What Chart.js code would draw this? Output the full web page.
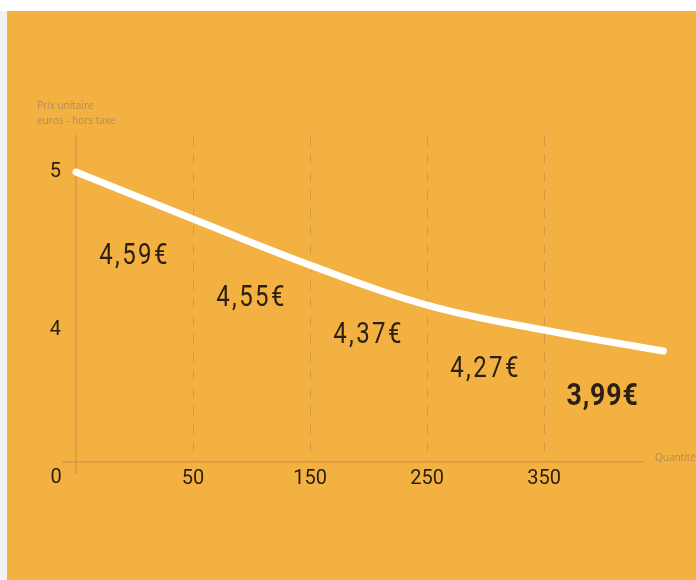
<!DOCTYPE html>
<html>
<head>
<meta charset="utf-8">
<script src="https://cdn.jsdelivr.net/npm/chart.js@4.4.1/dist/chart.umd.min.js"></script>
<style>
    html, body { margin: 0; padding: 0; background: #ffffff; }
    body { width: 696px; height: 580px; position: relative; overflow: hidden; }
    #strip { position: absolute; left: 0; top: 11px; width: 7px; height: 569px; background: #f1f1f1; }
    #panel { position: absolute; left: 7px; top: 11px; width: 689px; height: 569px; background: #f3b142; }
</style>
</head>
<body>
<div id="strip"></div>
<div id="panel"><canvas id="prixChart" width="689" height="569"></canvas></div>
<script>
// ------------------ data ------------------ //
var quantites = ['0', '50', '150', '250', '350'];          // tick labels of the x axis
var courbeX = [0, 1, 2, 3, 4, 5.02];                        // curve position (index along the quantity axis)
var courbeY = [5.0, 4.703, 4.411, 4.158, 4.0, 3.867];       // unit price curve
var prixTicks = [4, 5];                                     // y ticks shown
var prix = ['4,59€', '4,55€', '4,37€', '4,27€', '3,99€'];  // price per quantity band

var police = '"Roboto", sans-serif';
var texteFonce = '#2a1f12';
var texteGris = '#b08d55';
var axeCouleur = '#d49a45';

// draws the price labels, the origin "0" and the "Quantité" axis name
var etiquettes = {
    id: 'etiquettes',
    afterDatasetsDraw: function (chart, args, opts) {
        var ctx = chart.ctx;
        var xs = chart.scales.x, ys = chart.scales.y;
        var meta = chart.getDatasetMeta(0).data;
        ctx.save();
        // small axis overhangs past the origin
        ctx.strokeStyle = axeCouleur;
        ctx.lineWidth = 1.5;
        ctx.beginPath();
        ctx.moveTo(ys.right - 14, xs.top);
        ctx.lineTo(ys.right, xs.top);
        ctx.moveTo(ys.right, xs.top);
        ctx.lineTo(ys.right, xs.top + 12);
        ctx.stroke();

        ctx.fillStyle = texteFonce;
        ctx.textAlign = 'center';
        ctx.textBaseline = 'middle';
        for (var i = 0; i < prix.length; i++) {
            var last = i === prix.length - 1;
            var px = xs.getPixelForValue(i + 0.5);
            var py = (meta[i].y + meta[i + 1].y) / 2 + opts.decalage[i];
            ctx.save();
            ctx.translate(px, py);
            ctx.scale(last ? 0.86 : 0.8, 1);
            ctx.font = (last ? 'bold 31px ' : '30px ') + police;
            ctx.letterSpacing = last ? '1px' : '3px';
            ctx.fillText(prix[i], 0, 0);
            ctx.restore();
        }
        ctx.font = '20px ' + police;
        ctx.fillText(quantites[0], ys.right - 20, xs.top + 16);

        ctx.fillStyle = texteGris;
        ctx.textAlign = 'left';
        ctx.font = '10px "Open Sans", sans-serif';
        ctx.fillText('Quantité', xs.right + 12, xs.top - 4);
        ctx.restore();
    }
};

new Chart('prixChart', {
    type: 'line',
    data: {
        datasets: [{
            data: courbeX.map(function (x, i) { return { x: x, y: courbeY[i] }; }),
            borderColor: '#ffffff',
            borderWidth: 7,
            borderCapStyle: 'round',
            pointRadius: 0,
            tension: 0.4,
            clip: false
        }]
    },
    plugins: [etiquettes],
    options: {
        responsive: false,
        animation: false,
        layout: { padding: { left: 30, right: 53, top: 80, bottom: 78 } },
        plugins: {
            legend: { display: false },
            tooltip: { enabled: false },
            etiquettes: { decalage: [61, 56, 50, 52, 57] },
            title: {
                display: true,
                text: ['Prix unitaire', 'euros - hors taxe'],
                align: 'start',
                color: texteGris,
                font: { family: '"Open Sans", sans-serif', size: 10, weight: 'normal', lineHeight: 1.5 },
                padding: { top: 8, bottom: 7 }
            }
        },
        scales: {
            x: {
                type: 'linear',
                min: 0,
                max: 4.846,
                afterBuildTicks: function (scale) {
                    scale.ticks = quantites.slice(1).map(function (q, i) { return { value: i + 1 }; });
                },
                afterFit: function (scale) { scale.height = 40; },
                ticks: {
                    color: texteFonce,
                    padding: 5,
                    font: { family: police, size: 20 },
                    callback: function (v) { return quantites[v]; }
                },
                grid: { color: axeCouleur, lineWidth: 1, drawTicks: false },
                border: { display: true, color: axeCouleur, width: 1.5, dash: [10, 8] }
            },
            y: {
                min: 3.165,
                max: 5.228,
                afterBuildTicks: function (scale) {
                    scale.ticks = prixTicks.map(function (v) { return { value: v }; });
                },
                afterFit: function (scale) { scale.width = 39; },
                ticks: {
                    color: texteFonce,
                    padding: 15,
                    font: { family: police, size: 20 },
                    callback: function (v) { return String(v); }
                },
                grid: { display: false, drawTicks: false },
                border: { display: true, color: axeCouleur, width: 1.5 }
            }
        }
    }
});
</script>
</body>
</html>
